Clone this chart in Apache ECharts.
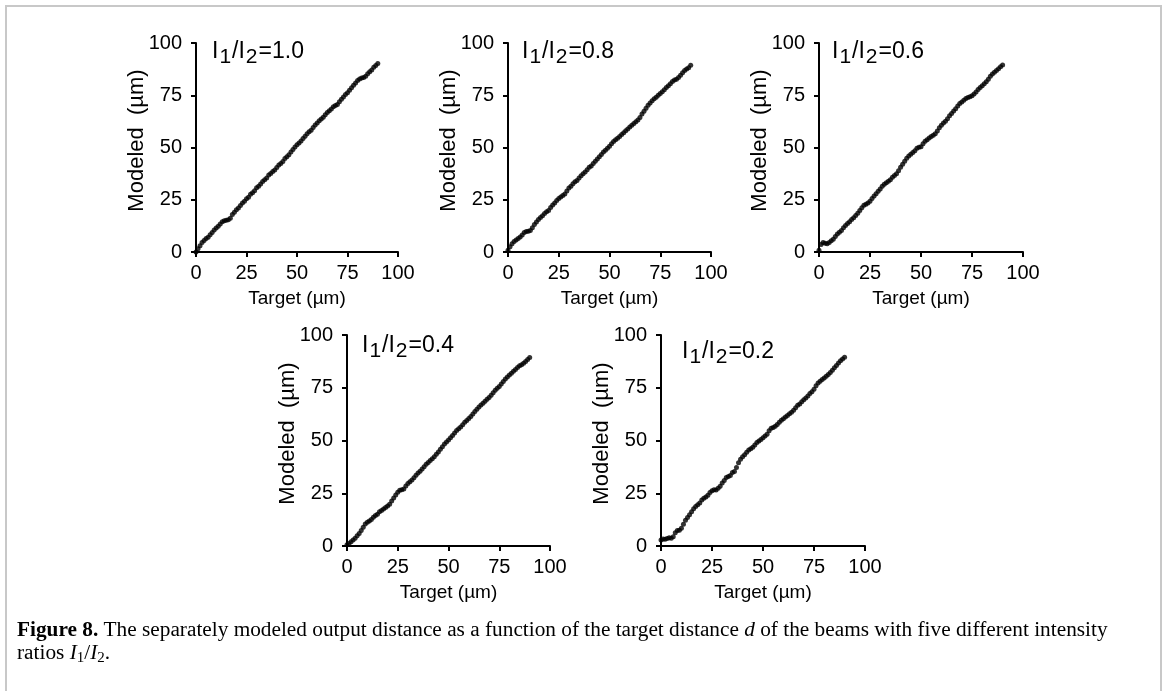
<!DOCTYPE html>
<html>
<head>
<meta charset="utf-8">
<script src="https://cdn.jsdelivr.net/npm/echarts@6/dist/echarts.min.js"></script>
<style>
html,body{margin:0;padding:0;background:#fff;}
#chart{width:1168px;height:691px;}
</style>
</head>
<body>
<div id="chart"></div>
<script>
// ---------------- data ----------------
const targets = [0,1,2,3,4,5,6,7,8,9,10,11,12,13,14,15,16,17,18,19,20,21,22,23,24,25,26,27,28,29,30,
  31,32,33,34,35,36,37,38,39,40,41,42,43,44,45,46,47,48,49,50,51,52,53,54,55,56,57,58,59,60,
  61,62,63,64,65,66,67,68,69,70,71,72,73,74,75,76,77,78,79,80,81,82,83,84,85,86,87,88,89,90];

const ratioLabels = ['1.0', '0.8', '0.6', '0.4', '0.2'];

const modeled10 = [0,1.5,3,4.5,5.5,6.5,7,8.2,9.3,10.5,11.5,12.3,13.4,14.5,15,15.2,15.4,16.2,18,19,
  20.2,21,22.3,23.4,24.3,25.5,26.2,27.6,28.4,29.3,30.8,31.5,32.5,33.7,34.6,35.4,36.8,37.6,38.5,39.2,
  40.4,41.6,42.4,43.3,44.7,45.6,46.5,47.8,49.1,50.2,51.3,52.2,53.1,54.3,55.4,56.6,57.5,58.3,59.6,60.8,
  61.7,62.8,63.6,64.5,65.7,66.8,67.6,68.4,69.5,70.1,70.6,71.9,73.1,74.2,75.3,76.2,77.4,78.6,79.8,80.9,
  82.1,82.8,83.2,83.5,84.1,85.3,86.2,87.1,88.4,89.2,90.2];

const modeled08 = [0.8,2.5,4,5,5.8,6.4,7.2,8.1,9.3,9.8,9.9,10.3,11.6,13.2,14.4,15.6,16.5,17.3,18.4,19.2,
  19.8,21.3,22.5,23.4,24.7,25.6,26.3,27,27.8,29.2,30.6,31.4,32.7,33.6,34.2,35.4,36.5,37.5,38.3,39.4,
  40.6,41.2,42.3,43.4,44.5,45.6,46.7,47.8,48.7,49.6,50.6,51.8,52.9,53.7,54.4,55.3,56.2,57.1,58,58.9,
  59.8,60.7,61.5,62.3,63.1,64.4,66,67.3,68.8,70.2,71.3,72.4,73.3,74.1,75,75.8,76.7,77.6,78.7,79.6,
  80.5,81.6,82.3,82.7,83.5,84.6,85.8,86.9,87.6,88.2,89.3];

const modeled06 = [0.8,3.6,4.5,4.2,3.9,4.6,5.4,6.1,7.4,8.6,9.4,10.3,11.6,12.7,13.6,14.5,15.6,16.4,17.5,18.6,
  19.8,21.2,22.4,22.8,23.4,24.3,25.6,26.8,27.9,29.1,30.2,31.5,32.4,33.1,33.8,34.6,35.8,36.6,37.5,38.9,
  40.5,42,43.4,44.8,45.9,46.8,47.6,48.5,49.6,50.1,50.4,51.8,53,53.7,54.5,55.3,55.9,56.6,57.9,59.4,
  60.6,61.7,62.6,63.8,65.2,66.3,67.5,68.6,69.9,71,71.8,72.6,73.4,73.9,74.3,74.8,75.6,76.6,77.8,78.7,
  79.6,80.5,81.4,82.7,84.1,85.2,86,86.8,87.7,88.6,89.5];

const modeled04 = [0.6,1.2,2,2.8,3.7,4.8,5.9,7.3,8.9,10.4,11.3,11.8,12.6,13.6,14.5,15.1,16.2,16.8,17.5,18.2,
  18.9,19.8,21.3,22.8,24.2,25.5,26.4,26.7,27,28.4,29.6,30.5,31.3,32.3,33.5,34.6,35.4,36.5,37.6,38.7,
  39.6,40.5,41.4,42.3,43.5,44.6,45.8,47,48.3,49.3,50.2,51.3,52.4,53.6,54.7,55.6,56.4,57.5,58.6,59.5,
  60.4,61.4,62.6,63.7,64.8,65.9,66.8,67.6,68.6,69.5,70.4,71.5,72.6,73.8,74.8,75.6,76.8,78,79.2,80.1,
  81,81.9,82.8,83.7,84.6,85.4,85.9,86.6,87.4,88.4,89.3];

const modeled02 = [2.8,3.3,3.2,3.6,3.9,3.7,4.4,6.3,7.4,7.5,8.4,10.3,12.2,13.5,14.8,16.2,17.6,18.7,19.5,20.4,
  21.8,22.6,23.2,24.1,25.3,26.2,26.6,26.5,27.4,28.3,29.8,31.1,32.5,32.9,33.4,34.8,35.3,37.2,39.4,41.1,
  42.3,43.2,44.4,45.5,46.1,46.8,47.9,49,49.8,50.5,51.3,52.1,53,54.6,55.8,56.2,56.8,57.6,58.7,59.6,
  60.3,61.1,61.8,62.7,63.4,64.3,65.5,66.7,67.3,68.4,69.3,70.2,71.1,72.3,73.1,74.3,76,77.3,78.1,78.9,
  79.6,80.5,81.3,82.2,83.3,84.5,85.5,86.7,87.8,88.6,89.5];

const axisTicks = [0, 25, 50, 75, 100];
const xAxisTitle = 'Target (µm)';
const yAxisTitle = 'Modeled  (µm)';

// ---------------- layout ----------------
const panelSeries = [modeled10, modeled08, modeled06, modeled04, modeled02];
const grids = [
  {left: 196, top: 43, width: 202, height: 209},
  {left: 508, top: 43, width: 203, height: 209},
  {left: 819, top: 43, width: 204, height: 209},
  {left: 347, top: 335, width: 203, height: 211},
  {left: 661, top: 335, width: 204, height: 211}
];
const titlePos = [[212, 40], [522, 40], [832, 40], [362, 334], [682, 340]];

const SANS = 'Liberation Sans, Arial, sans-serif';
const SERIF = 'Liberation Serif, Times New Roman, serif';

const tickMin = axisTicks[0];
const tickMax = axisTicks[axisTicks.length - 1];
const tickStep = axisTicks[1] - axisTicks[0];

function axisCommon(i) {
  return {
    gridIndex: i,
    type: 'value',
    min: tickMin,
    max: tickMax,
    interval: tickStep,
    axisLine: {show: true, onZero: false, lineStyle: {color: '#000', width: 2}},
    axisTick: {show: true, inside: false, length: 5, lineStyle: {color: '#000', width: 2}},
    splitLine: {show: false},
    axisLabel: {color: '#000', fontSize: 20, fontFamily: SANS},
    nameLocation: 'middle',
    nameMoveOverlap: false,
    nameTextStyle: {color: '#000', fontSize: 20, fontFamily: SANS}
  };
}

const xAxes = [], yAxes = [], series = [], titles = [];
for (let i = 0; i < 5; i++) {
  const xa = axisCommon(i);
  xa.name = xAxisTitle;
  xa.nameGap = 37;
  xa.axisLabel.margin = 11;
  xa.nameTextStyle.fontSize = 19;
  xAxes.push(xa);

  const ya = axisCommon(i);
  ya.name = yAxisTitle;
  ya.nameGap = 48;
  ya.axisLabel.margin = 14;
  ya.nameTextStyle.fontSize = 22;
  ya.nameTextStyle.padding = [0, 0, 0, 14];
  yAxes.push(ya);

  series.push({
    type: 'scatter',
    xAxisIndex: i,
    yAxisIndex: i,
    symbol: 'circle',
    symbolSize: 5,
    itemStyle: {color: '#000'},
    silent: true,
    data: targets.map((t, k) => [t, panelSeries[i][k]])
  });

  titles.push({
    left: titlePos[i][0],
    top: titlePos[i][1],
    padding: 0,
    text: '{a|I}{s|1}{a|/I}{s|2}{a|=' + ratioLabels[i] + '}',
    textStyle: {
      fontWeight: 'normal',
      fontSize: 23,
      fontFamily: SANS,
      color: '#000',
      rich: {
        a: {fontSize: 23, fontFamily: SANS, fontWeight: 'normal', color: '#000', lineHeight: 24, verticalAlign: 'top'},
        s: {fontSize: 21, fontFamily: SANS, fontWeight: 'normal', color: '#000', lineHeight: 24, verticalAlign: 'top', padding: [7, 1, 0, 1]}
      }
    }
  });
}

const CAPF = 21.3;
const capRich = {
  n: {fontSize: CAPF, fontFamily: SERIF, color: '#231f20', lineHeight: 22},
  b: {fontSize: CAPF, fontFamily: SERIF, color: '#231f20', fontWeight: 'bold', lineHeight: 22},
  i: {fontSize: CAPF, fontFamily: SERIF, color: '#231f20', fontStyle: 'italic', lineHeight: 22},
  s: {fontSize: 15, fontFamily: SERIF, color: '#231f20', lineHeight: 22, verticalAlign: 'top', padding: [9, 0, 0, 0]}
};

const chart = echarts.init(document.getElementById('chart'), null, {renderer: 'canvas'});
chart.setOption({
  animation: false,
  backgroundColor: '#fff',
  title: titles,
  grid: grids,
  xAxis: xAxes,
  yAxis: yAxes,
  series: series,
  graphic: [
    {
      type: 'rect', z: -10,
      shape: {x: 6, y: 6, width: 1155, height: 720},
      style: {fill: 'none', stroke: '#c8c8c8', lineWidth: 2}
    },
    {
      type: 'text', left: 17, top: 620,
      style: {
        text: '{b|Figure 8.}{n| The separately modeled output distance as a function of the target distance }{i|d}{n| of the beams with five different intensity}',
        rich: capRich
      }
    },
    {
      type: 'text', left: 17, top: 642,
      style: {
        text: '{n|ratios }{i|I}{s|1}{n|/}{i|I}{s|2}{n|.}',
        rich: capRich
      }
    }
  ]
});
</script>
</body>
</html>
